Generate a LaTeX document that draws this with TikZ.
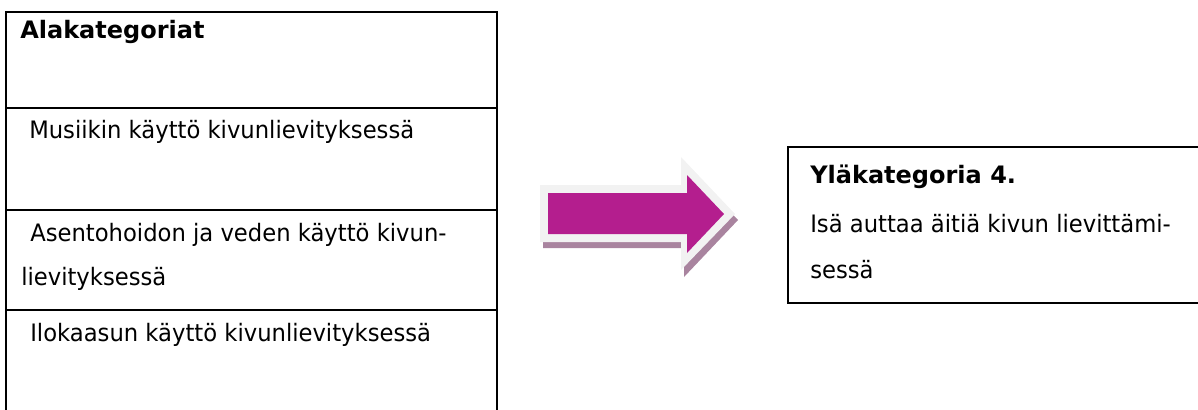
\documentclass[tikz,border=0pt]{standalone}
\usepackage{fontspec}
\newfontfamily\rfont{DejaVu Sans}[FakeStretch=0.945]
\newfontfamily\bfont{DejaVu Sans}
\definecolor{arrowfill}{HTML}{B41E8E}
\definecolor{arrowrim}{HTML}{F2F2F2}
\definecolor{arrowshadow}{HTML}{A9849F}
\tikzset{
  txt/.style={anchor=base west, inner sep=0pt, font=\rfont\fontsize{18pt}{22pt}\selectfont},
  headtxt/.style={anchor=base west, inner sep=0pt, font=\bfont\bfseries\fontsize{18pt}{22pt}\selectfont},
  leftbox/.style={line width=1.5pt, black},
  rightbox/.style={line width=1pt, black}
}
\begin{document}
\begin{tikzpicture}[x=0.75pt,y=-0.75pt]
\useasboundingbox (0,0) rectangle (1198,410);
% left table
\draw[leftbox] (6,410) -- (6,12) -- (497,12) -- (497,410);
\draw[leftbox] (6,108) -- (497,108);
\draw[leftbox] (6,210) -- (497,210);
\draw[leftbox] (6,310) -- (497,310);
\node[headtxt] (h1) at (20,39) {Alakategoriat};
\node[txt] (a1) at (29,138) {Musiikin käyttö kivunlievityksessä};
\node[txt] (a2) at (30,241) {Asentohoidon ja veden käyttö kivun-};
\node[txt] (a3) at (21,285) {lievityksessä};
\node[txt] (a4) at (30,341) {Ilokaasun käyttö kivunlievityksessä};
% arrow
\fill[arrowshadow] (543,191) -- (684,191) -- (684,163) -- (738,220) -- (684,277) -- (684,248) -- (543,248) -- cycle;
\fill[arrowrim] (540,185) -- (681,185) -- (681,157) -- (735,214) -- (681,270) -- (681,242) -- (540,242) -- cycle;
\fill[arrowfill] (548,193) -- (687,193) -- (687,175) -- (724,214) -- (687,253) -- (687,234) -- (548,234) -- cycle;
% right box
\draw[rightbox] (1198,147) -- (788,147) -- (788,303) -- (1198,303);
\node[headtxt] (h2) at (810,183) {Yläkategoria 4.};
\node[txt] (b1) at (810,232) {Isä auttaa äitiä kivun lievittämi-};
\node[txt] (b2) at (810,278) {sessä};
\end{tikzpicture}
\end{document}
